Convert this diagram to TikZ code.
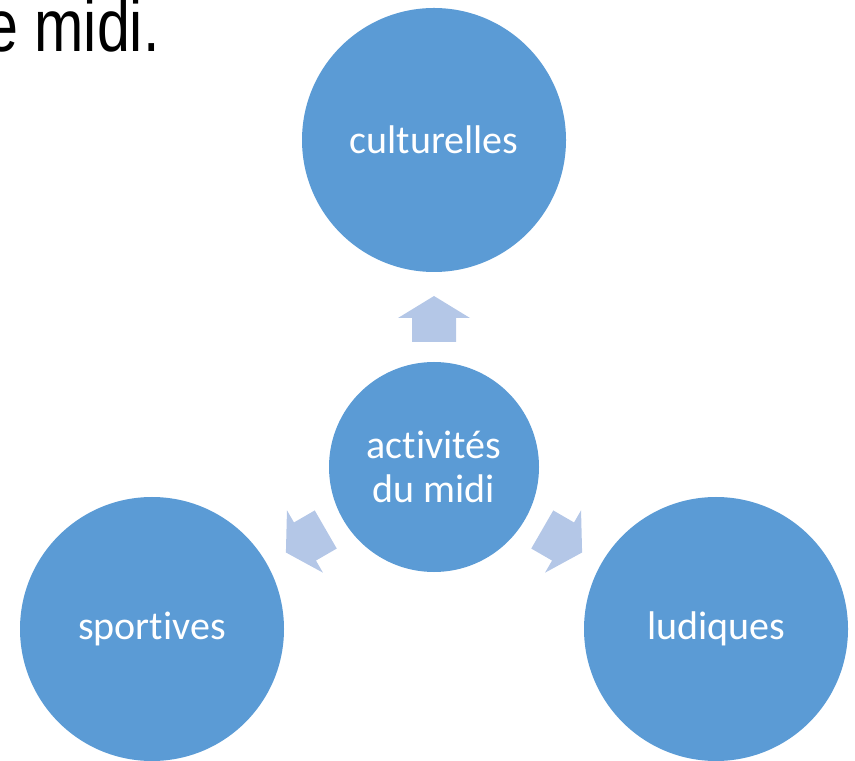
\documentclass[tikz,border=0pt]{standalone}
\usepackage{fontspec}
\setmainfont{Carlito}[Ligatures={NoCommon}]
\newfontfamily\titlefont[FakeStretch=0.8]{Liberation Sans}
\definecolor{bulle}{HTML}{5B9BD5}
\definecolor{fleche}{HTML}{B4C7E7}
\tikzset{
  bulle/.style={circle, fill=bulle, text=white, inner sep=0pt, align=center,
    font=\fontsize{20}{22}\selectfont},
  grande/.style={bulle, minimum size=132pt},
  petite/.style={bulle, minimum size=105pt},
}

\begin{document}
\begin{tikzpicture}[x=0.5pt,y=0.5pt]
	\useasboundingbox (0,0) rectangle (855,760);
	\node[anchor=base east, inner sep=0pt, font=\titlefont\fontsize{37}{40}\selectfont] (titre) at (160,708) {e midi.};% cut-off title
	\node[petite] (midi) at (434,293) {activités\\du midi};
	\node[grande] (cult) at (434,620) {culturelles};
	\node[grande] (sport) at (152,131) {sportives};
	\node[grande] (ludi) at (716,131) {ludiques};
	% block arrows from the centre
	\foreach \a in {90,210,330}
		\fill[fleche, shift={(midi.center)}, rotate=\a] (125,-22) -- (149,-22) -- (149,-36) -- (171,0) -- (149,36) -- (149,22) -- (125,22) -- cycle;
\end{tikzpicture}
\end{document}
